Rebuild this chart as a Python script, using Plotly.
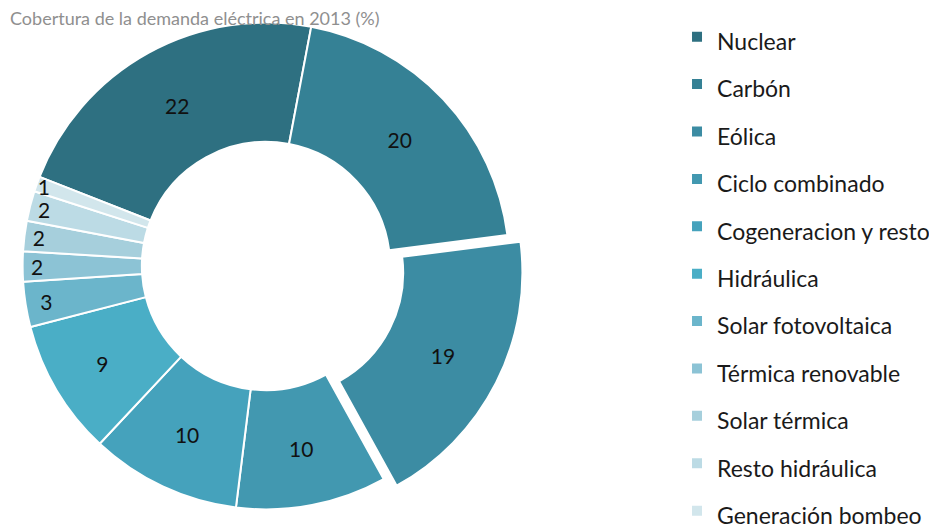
import plotly.graph_objects as go

fuentes = ["Nuclear", "Carbón", "Eólica", "Ciclo combinado", "Cogeneracion y resto",
           "Hidráulica", "Solar fotovoltaica", "Térmica renovable", "Solar térmica",
           "Resto hidráulica", "Generación bombeo"]
cobertura = [22, 20, 19, 10, 10, 9, 3, 2, 2, 2, 1]
colores = ["#2e7081", "#358195", "#3c8ca3", "#4298b0", "#45a2bc", "#4aaec6",
           "#6bb5cb", "#8cc3d5", "#a6cfdc", "#bcdbe5", "#d2e6ec"]
separar = [0, 0, 0.06, 0, 0, 0, 0, 0, 0, 0, 0]

titulo = "Cobertura de la demanda eléctrica en 2013 (%)"

# label text is wrapped in a smaller span so the legend rows get the tall spacing of the original
etiquetas = ['<span style="font-size:23px">%s</span>' % f for f in fuentes]

fig = go.Figure()
fig.add_trace(
    go.Pie(
        labels=etiquetas,
        values=cobertura,
        hole=0.51,
        sort=False,
        direction="clockwise",
        rotation=-68.5,
        pull=separar,
        text=[str(v) for v in cobertura],
        textinfo="text",
        textposition="inside",
        insidetextorientation="horizontal",
        textfont=dict(family="Lato", size=21, color="#111111"),
        marker=dict(colors=colores, line=dict(color="white", width=2)),
        domain=dict(x=[0, 0.5507], y=[0.0282, 1]),
        hoverinfo="percent+value",
    )
)

fig.add_annotation(
    text=titulo,
    xref="paper", yref="paper",
    x=0, y=1, xanchor="left", yanchor="top",
    yshift=3,
    showarrow=False,
    font=dict(family="Lato", size=18, color="#8f8f8f"),
)

fig.update_layout(
    width=937,
    height=531,
    margin=dict(l=0, r=0, t=0, b=0),
    paper_bgcolor="white",
    plot_bgcolor="white",
    uniformtext=dict(minsize=21, mode="show"),
    legend=dict(
        x=0.714, y=0.995, xanchor="left", yanchor="top",
        font=dict(family="Lato", size=34.15, color="#1a1a1a"),
        bgcolor="rgba(0,0,0,0)",
    ),
)

try:
    fig.update_layout(legend_maxheight=600)
except ValueError:
    pass

fig.write_html("out.html")
